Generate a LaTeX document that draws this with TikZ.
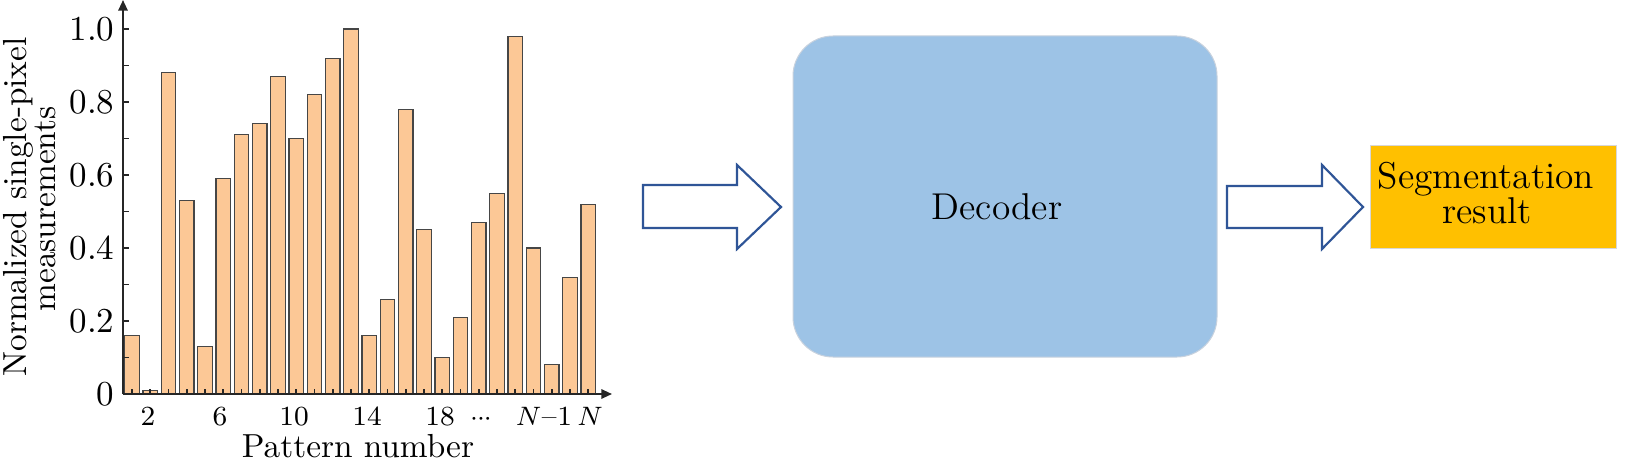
\documentclass[tikz,border=0pt]{standalone}
\usetikzlibrary{arrows.meta}
\definecolor{barfill}{RGB}{252,200,150}
\definecolor{baredge}{RGB}{70,70,70}
\definecolor{decblue}{RGB}{157,195,230}
\definecolor{decedge}{RGB}{200,210,222}
\definecolor{segyellow}{RGB}{255,192,0}
\definecolor{segedge}{RGB}{215,215,215}
\definecolor{arrowblue}{RGB}{47,85,151}
\begin{document}
\begin{tikzpicture}[x=0.3pt,y=-0.3pt,
  barbox/.style={fill=barfill,draw=baredge,line width=0.35pt},
  axisline/.style={draw=black!85,line width=0.6pt},
  tickline/.style={draw=black!85,line width=0.5pt},
  yticklab/.style={inner sep=0pt,font=\fontsize{10.5}{12}\selectfont},
  xticklab/.style={inner sep=0pt,font=\fontsize{8.3}{10}\selectfont},
  axtitle/.style={inner sep=0pt,font=\fontsize{10}{12}\selectfont},
  blockarrow/.style={draw=arrowblue,fill=white,line width=0.65pt,line join=miter},
  decbox/.style={fill=decblue,draw=decedge,line width=0.3pt,rounded corners=12pt,
    minimum width=127.2pt,minimum height=96.3pt,inner sep=0pt},
  segbox/.style={fill=segyellow,draw=segedge,line width=0.3pt,
    minimum width=73.8pt,minimum height=30.9pt,inner sep=0pt},
  boxtext/.style={inner sep=0pt,font=\fontsize{11.2}{12}\selectfont}
]
\useasboundingbox (0,0) rectangle (1634,464);

% bars
\foreach \v [count=\k] in {0.16,0.01,0.88,0.53,0.13,0.59,0.71,0.74,0.87,0.70,0.82,0.92,1.0,0.16,0.26,0.78,0.45,0.10,0.21,0.47,0.55,0.98,0.40,0.08,0.32,0.52}{
  \pgfmathsetmacro\cx{132+(\k-1)*18.25}
  \pgfmathsetmacro\top{394-365*\v}
  \draw[barbox] ({\cx-7.25},394) rectangle ({\cx+7.25},\top);
  \draw[tickline] (\cx,394) -- (\cx,389);
}

% axes
\coordinate (orig) at (123,394);
\coordinate (xend) at (612,394);
\coordinate (yend) at (123,0);
\draw[axisline,-{Triangle[length=3.2pt,width=2.8pt]}] (orig) -- (xend);
\draw[axisline,-{Triangle[length=3.2pt,width=2.8pt]}] (orig) -- (yend);

% y ticks
\foreach \i in {1,...,10}{
  \pgfmathsetmacro\yy{394-36.5*\i}
  \draw[tickline] (123,\yy) -- (129,\yy);
}
\foreach \lab/\i in {0/0,0.2/2,0.4/4,0.6/6,0.8/8,1.0/10}{
  \pgfmathsetmacro\yy{394-36.5*\i}
  \node[yticklab,anchor=east] (yl\i) at (115,\yy) {\lab};
}

% x tick labels
\node[xticklab,anchor=base] (xl2) at (148,425) {2};
\node[xticklab,anchor=base] (xl6) at (220,425) {6};
\node[xticklab,anchor=base] (xl10) at (294,425) {10};
\node[xticklab,anchor=base] (xl14) at (367,425) {14};
\node[xticklab,anchor=base] (xl18) at (440,425) {18};
\node[xticklab,anchor=base] (xldots) at (481,425) {$\mathord{\cdot}\kern-0.3pt\mathord{\cdot}\kern-0.3pt\mathord{\cdot}$};
\node[xticklab,anchor=base] (xlN1) at (544,425) {$N$\kern0.2pt--\kern0.2pt1};
\node[xticklab,anchor=base] (xlN) at (590,425) {$N$};

% axis titles
\node[axtitle,anchor=base] (xtitle) at (358,457) {Pattern number};
\node[axtitle,anchor=base,rotate=90] (ytitle1) at (26,207) {Normalized single-pixel};
\node[axtitle,anchor=base,rotate=90] (ytitle2) at (55,209) {measurements};

% decoder
\node[decbox] (dec) at (1005,196.5) {};
\node[boxtext,anchor=base] (declab) at (997,219) {Decoder};

% segmentation
\node[segbox] (seg) at (1493,196.5) {};
\node[boxtext,anchor=base] (seglab1) at (1486,188) {Segmentation};
\node[boxtext,anchor=base] (seglab2) at (1487,223) {result};

% block arrows
\draw[blockarrow] (643,185) -- (737,185) -- (737,165) -- (781,207) -- (737,249) -- (737,228) -- (643,228) -- cycle;
\draw[blockarrow] (1227,186) -- (1322,186) -- (1322,165) -- (1363,207) -- (1322,249) -- (1322,228) -- (1227,228) -- cycle;
\end{tikzpicture}
\end{document}
